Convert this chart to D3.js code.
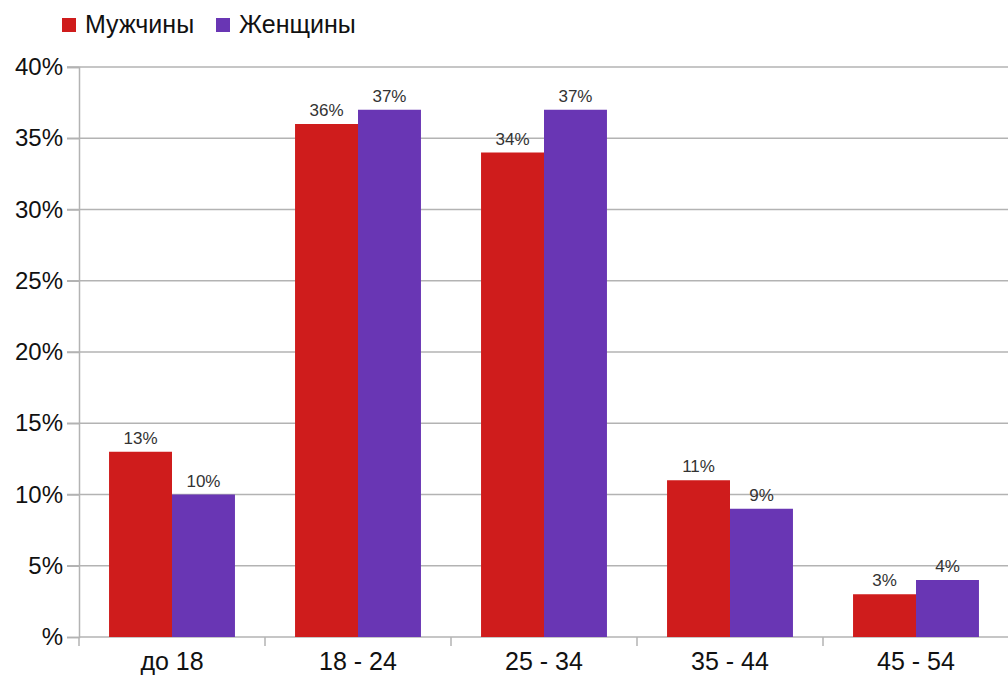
<!DOCTYPE html>
<html>
<head>
<meta charset="utf-8">
<script src="https://cdn.jsdelivr.net/npm/d3@7"></script>
<style>
  body { margin: 0; background: #fff; }
  svg { display: block; font-family: "Liberation Sans", Arial, sans-serif; }
</style>
</head>
<body>
<svg id="chart" width="1008" height="678"></svg>
<script>
// age groups
var categories = ["до 18", "18 - 24", "25 - 34", "35 - 44", "45 - 54"];
// series
var seriesNames = ["Мужчины", "Женщины"];
var men = [13, 36, 34, 11, 3];
var women = [10, 37, 37, 9, 4];
// y axis
var yTicks = [0, 5, 10, 15, 20, 25, 30, 35, 40];
var yTickLabels = ["%", "5%", "10%", "15%", "20%", "25%", "30%", "35%", "40%"];

var colours = ["#cf1c1c", "#6936b4"];

var svg = d3.select("#chart");
var plotLeft = 79, plotRight = 1009, plotTop = 67, plotBottom = 637;

var x = d3.scaleBand()
    .domain(categories)
    .range([plotLeft, plotRight])
    .paddingInner(0.323)
    .paddingOuter(0.1615);

var xs = d3.scaleBand()
    .domain(seriesNames)
    .range([0, x.bandwidth()]);

var y = d3.scaleLinear()
    .domain([0, 40])
    .range([plotBottom, plotTop]);

// gridlines
svg.append("g")
    .selectAll("line")
    .data(yTicks.slice(1))
    .enter().append("line")
    .attr("x1", plotLeft - 12)
    .attr("x2", plotRight)
    .attr("y1", function (d) { return y(d); })
    .attr("y2", function (d) { return y(d); })
    .attr("stroke", "#b3b3b3")
    .attr("stroke-width", 1.5);

// y axis
var yAxis = svg.append("g")
    .attr("transform", "translate(" + plotLeft + ",0)")
    .call(d3.axisLeft(y)
        .tickValues(yTicks)
        .tickSize(12)
        .tickPadding(4)
        .tickFormat(function (d, i) { return yTickLabels[i]; }));
yAxis.select(".domain").attr("stroke", "#b3b3b3").attr("stroke-width", 1.5);
yAxis.selectAll(".tick line").attr("stroke", "#b3b3b3").attr("stroke-width", 1.5);
yAxis.selectAll("text")
    .attr("font-size", 24)
    .attr("fill", "#111")
    .attr("font-family", "Liberation Sans, Arial, sans-serif");

// x axis
var xAxis = svg.append("g")
    .attr("transform", "translate(0," + plotBottom + ")")
    .call(d3.axisBottom(x).tickSize(0).tickPadding(15));
xAxis.select(".domain").remove();
xAxis.selectAll("text")
    .attr("font-size", 25)
    .attr("fill", "#111")
    .attr("font-family", "Liberation Sans, Arial, sans-serif");

// x tick marks between groups
svg.append("g")
    .selectAll("line")
    .data(categories)
    .enter().append("line")
    .attr("x1", function (d) { return x(d) - x.step() * x.paddingOuter(); })
    .attr("x2", function (d) { return x(d) - x.step() * x.paddingOuter(); })
    .attr("y1", plotBottom)
    .attr("y2", plotBottom + 9)
    .attr("stroke", "#b3b3b3")
    .attr("stroke-width", 1.5);

svg.append("line")
    .attr("x1", plotLeft).attr("x2", plotRight)
    .attr("y1", plotBottom).attr("y2", plotBottom)
    .attr("stroke", "#b3b3b3")
    .attr("stroke-width", 1.5);

// bars
var rows = categories.map(function (c, i) {
    return { cat: c, values: [men[i], women[i]] };
});

var groups = svg.append("g")
    .selectAll("g")
    .data(rows)
    .enter().append("g")
    .attr("transform", function (d) { return "translate(" + x(d.cat) + ",0)"; });

groups.selectAll("rect")
    .data(function (d) { return d.values.map(function (v, j) { return { s: seriesNames[j], v: v, j: j }; }); })
    .enter().append("rect")
    .attr("x", function (d) { return xs(d.s); })
    .attr("y", function (d) { return y(d.v); })
    .attr("width", xs.bandwidth())
    .attr("height", function (d) { return plotBottom - y(d.v); })
    .attr("fill", function (d) { return colours[d.j]; });

groups.selectAll("text")
    .data(function (d) { return d.values.map(function (v, j) { return { s: seriesNames[j], v: v }; }); })
    .enter().append("text")
    .attr("x", function (d) { return xs(d.s) + xs.bandwidth() / 2; })
    .attr("y", function (d) { return y(d.v) - 8; })
    .attr("text-anchor", "middle")
    .attr("font-size", 17)
    .attr("fill", "#333")
    .text(function (d) { return d.v + "%"; });

// legend
var legend = svg.append("g");
var legendX = [62, 216];
seriesNames.forEach(function (name, i) {
    legend.append("rect")
        .attr("x", legendX[i])
        .attr("y", 18)
        .attr("width", 14)
        .attr("height", 14)
        .attr("fill", colours[i]);
    legend.append("text")
        .attr("x", legendX[i] + 23)
        .attr("y", 33)
        .attr("font-size", 25)
        .attr("fill", "#111")
        .text(name);
});
</script>
</body>
</html>
